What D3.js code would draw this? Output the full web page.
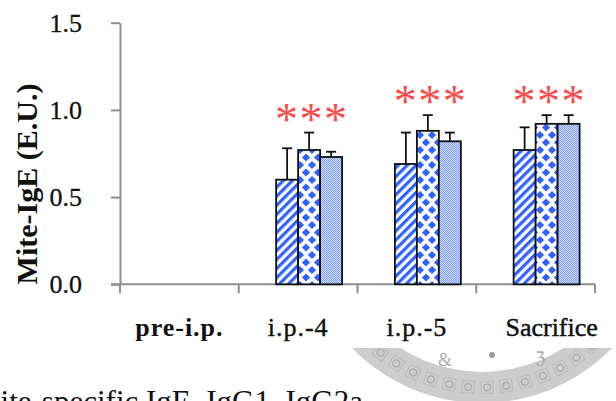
<!DOCTYPE html>
<html>
<head>
<meta charset="utf-8">
<script src="https://cdn.jsdelivr.net/npm/d3@7"></script>
<style>
  html, body { margin: 0; padding: 0; background: #fff; }
  svg { display: block; }
</style>
</head>
<body>
<svg id="chart" width="616" height="401"></svg>
<script>
// Time points of sampling
const categories = ["pre-i.p.", "i.p.-4", "i.p.-5", "Sacrifice"];
// Bar slots inside each time point (first slot is an empty control)
const seriesKeys = ["control", "hatched", "diamond", "dotted"];
// Mite-IgE means (E.U.)
const controlValues = [0, 0, 0, 0];
const hatchedValues = [0, 0.60, 0.69, 0.77];
const diamondValues = [0, 0.77, 0.88, 0.92];
const dottedValues  = [0, 0.73, 0.82, 0.92];
// Standard deviations (upper whisker only)
const controlErrors = [0, 0, 0, 0];
const hatchedErrors = [0, 0.18, 0.18, 0.13];
const diamondErrors = [0, 0.10, 0.09, 0.05];
const dottedErrors  = [0, 0.03, 0.05, 0.05];
// Significance marks per time point
const significance = ["", "***", "***", "***"];
// Y-axis ticks
const yTicks = [0, 0.5, 1.0, 1.5];

const seriesValues = { control: controlValues, hatched: hatchedValues, diamond: diamondValues, dotted: dottedValues };
const seriesErrors = { control: controlErrors, hatched: hatchedErrors, diamond: diamondErrors, dotted: dottedErrors };

const svg = d3.select("#chart");
const blue = "#2f62ff";
const axisGray = "#8e8e8e";
const serif = "'Liberation Serif', 'Times New Roman', serif";

// ---- fill patterns ----
const defs = svg.append("defs");

const stripe = defs.append("pattern")
  .attr("id", "pat-hatched").attr("patternUnits", "userSpaceOnUse")
  .attr("width", 6.4).attr("height", 6.4)
  .attr("patternTransform", "rotate(45)");
stripe.append("rect").attr("width", 6.4).attr("height", 6.4).attr("fill", "#fff");
stripe.append("rect").attr("width", 3.2).attr("height", 6.4).attr("fill", blue);

const diamond = defs.append("pattern")
  .attr("id", "pat-diamond").attr("patternUnits", "userSpaceOnUse")
  .attr("width", 12).attr("height", 15);
diamond.append("rect").attr("width", 12).attr("height", 15).attr("fill", "#fff");
[[0, 0], [12, 0], [0, 15], [12, 15], [6, 7.5]].forEach(([cx, cy]) => {
  diamond.append("path")
    .attr("d", `M${cx},${cy - 4.1}L${cx + 4.1},${cy}L${cx},${cy + 4.1}L${cx - 4.1},${cy}Z`)
    .attr("fill", blue);
});

const dots = defs.append("pattern")
  .attr("id", "pat-dotted").attr("patternUnits", "userSpaceOnUse")
  .attr("width", 2).attr("height", 2);
dots.append("rect").attr("width", 2).attr("height", 2).attr("fill", "#cad7ff");
dots.append("rect").attr("width", 1).attr("height", 1).attr("fill", "#86a2ff");
dots.append("rect").attr("x", 1).attr("y", 1).attr("width", 1).attr("height", 1).attr("fill", "#86a2ff");

// ---- scales ----
const x = d3.scaleBand().domain(categories).range([120, 595]).paddingInner(0).paddingOuter(0);
const xs = d3.scaleBand().domain(seriesKeys).range([0, x.bandwidth()]).paddingOuter(0.7).paddingInner(0);
const y = d3.scaleLinear().domain([0, 1.5]).range([284.3, 22.7]);

// ---- watermark seal at the page bottom ----
defs.append("clipPath").attr("id", "seal-clip")
  .append("rect").attr("x", 0).attr("y", 348).attr("width", 616).attr("height", 60);
const seal = svg.append("g").attr("clip-path", "url(#seal-clip)");
const sc = { x: 482, y: 222, ro: 181, ri: 150 };
seal.append("path")
  .attr("d", d3.arc().innerRadius(sc.ri).outerRadius(sc.ro).startAngle(0).endAngle(2 * Math.PI)())
  .attr("transform", `translate(${sc.x},${sc.y})`)
  .attr("fill", "#cdcdcd");
d3.range(0, 360, 6.6).forEach(a => {
  const rad = a * Math.PI / 180;
  const rm = (sc.ro + sc.ri) / 2;
  const g = seal.append("g")
    .attr("transform", `translate(${sc.x + rm * Math.sin(rad)},${sc.y - rm * Math.cos(rad)}) rotate(${a})`);
  g.append("rect").attr("x", -6).attr("y", -6).attr("width", 12).attr("height", 12)
    .attr("fill", "none").attr("stroke", "#bcbcbc").attr("stroke-width", 1);
  g.append("circle").attr("r", 3.4).attr("fill", "none").attr("stroke", "#acacac").attr("stroke-width", 1.2);
});
seal.append("circle").attr("cx", 492).attr("cy", 355).attr("r", 3).attr("fill", "#9a9a9a");
seal.append("text").attr("x", 445).attr("y", 366).attr("text-anchor", "middle")
  .attr("font-family", serif).attr("font-size", 18).attr("fill", "#ababab").text("&");
seal.append("text").attr("x", 540).attr("y", 364).attr("text-anchor", "middle")
  .attr("font-family", serif).attr("font-size", 18).attr("fill", "#ababab").text("ℨ");

// ---- caption line below the figure (runs past the page edges) ----
svg.append("text")
  .attr("x", -27).attr("y", 412)
  .attr("font-family", serif).attr("font-size", 31).attr("fill", "#111")
  .text("Mite-specific IgE, IgG1, IgG2a");

// ---- axes ----
const yAxis = svg.append("g").attr("transform", "translate(120,0)")
  .call(d3.axisLeft(y).tickValues(yTicks).tickFormat(d3.format(".1f")).tickSize(9).tickSizeOuter(0).tickPadding(29));
yAxis.select(".domain").attr("stroke", axisGray).attr("stroke-width", 2);
yAxis.selectAll(".tick line").attr("stroke", axisGray).attr("stroke-width", 2);
yAxis.selectAll(".tick text").attr("font-family", serif).attr("font-size", 26).attr("fill", "#111")
  .attr("stroke", "#111").attr("stroke-width", 0.3);

// baseline and category separators
svg.append("line").attr("x1", 111).attr("x2", 595).attr("y1", y(0)).attr("y2", y(0))
  .attr("stroke", axisGray).attr("stroke-width", 2);
const bounds = categories.map(c => x(c)).concat([x(categories[categories.length - 1]) + x.bandwidth()]);
svg.selectAll(".sep").data(bounds).join("line")
  .attr("x1", d => d).attr("x2", d => d).attr("y1", y(0)).attr("y2", y(0) + 9)
  .attr("stroke", axisGray).attr("stroke-width", 2);

const xAxis = svg.append("g").attr("transform", `translate(0,${y(0)})`)
  .call(d3.axisBottom(x).tickSize(0).tickPadding(33));
xAxis.select(".domain").remove();
xAxis.selectAll(".tick text")
  .attr("font-family", serif).attr("font-size", 26).attr("fill", "#111")
  .attr("font-weight", d => d === "pre-i.p." ? "bold" : "normal")
  .attr("stroke", "#111").attr("stroke-width", d => d === "pre-i.p." ? 0 : 0.45)
  .attr("letter-spacing", d => d === "Sacrifice" ? 0 : 1)
  .attr("dx", d => d === "Sacrifice" ? 16 : 0);

// y-axis title
svg.append("text")
  .attr("transform", "translate(37,184) rotate(-90)")
  .attr("text-anchor", "middle")
  .attr("font-family", serif).attr("font-size", 30).attr("font-weight", "bold").attr("fill", "#111")
  .text("Mite-IgE (E.U.)");

// ---- bars ----
const rows = [];
categories.forEach((c, i) => {
  seriesKeys.forEach(k => {
    rows.push({ cat: c, key: k, value: seriesValues[k][i], err: seriesErrors[k][i] });
  });
});
const visible = rows.filter(d => d.value > 0);

// error whiskers (drawn first so bars cover the lower stem)
const eb = svg.append("g").selectAll("g").data(visible.filter(d => d.err > 0)).join("g")
  .attr("stroke", "#111").attr("stroke-width", 1.8);
eb.append("line")
  .attr("x1", d => x(d.cat) + xs(d.key) + xs.bandwidth() / 2)
  .attr("x2", d => x(d.cat) + xs(d.key) + xs.bandwidth() / 2)
  .attr("y1", d => y(d.value)).attr("y2", d => y(d.value + d.err));
eb.append("line")
  .attr("x1", d => x(d.cat) + xs(d.key) + xs.bandwidth() / 2 - 5)
  .attr("x2", d => x(d.cat) + xs(d.key) + xs.bandwidth() / 2 + 5)
  .attr("y1", d => y(d.value + d.err)).attr("y2", d => y(d.value + d.err));

svg.append("g").selectAll("rect").data(visible).join("rect")
  .attr("x", d => x(d.cat) + xs(d.key))
  .attr("y", d => y(d.value))
  .attr("width", xs.bandwidth())
  .attr("height", d => y(0) - y(d.value))
  .attr("fill", d => `url(#pat-${d.key})`)
  .attr("stroke", "#111").attr("stroke-width", 1.8);

// ---- significance asterisks ----
categories.forEach((c, i) => {
  if (!significance[i]) return;
  const top = d3.max(seriesKeys, k => seriesValues[k][i] + seriesErrors[k][i]);
  const cx = x(c) + xs("diamond") + xs.bandwidth() / 2 + 2;
  significance[i].split("").forEach((s, j) => {
    svg.append("text")
      .attr("x", cx + (j - 1) * 24.5)
      .attr("y", y(top) + 2)
      .attr("text-anchor", "middle")
      .attr("font-family", serif).attr("font-size", 46).attr("fill", "#ff4a4a")
      .text(s);
  });
});
</script>
</body>
</html>
